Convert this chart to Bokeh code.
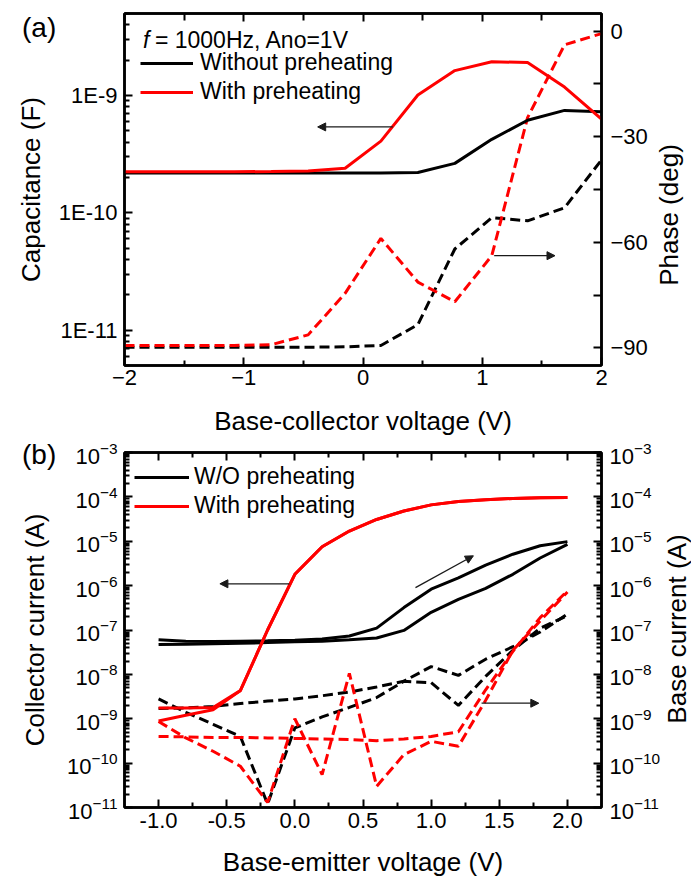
from bokeh.embed import file_html
from bokeh.layouts import column
from bokeh.models import (Arrow, CustomJSTickFormatter, Div, FixedTicker, Label, Legend,
                          LegendItem, LinearAxis, LinearScale, LogAxis, LogScale,
                          LogTickFormatter, NormalHead, NumeralTickFormatter, Range1d)
from bokeh.plotting import figure
from bokeh.resources import INLINE

FONT = "Liberation Sans"
RED = "#ff0000"
INK = "#000000"
ARROW_INK = "#1a1a1a"
DASH = "10 5"

# ---------------- (a) capacitance and phase vs base-collector voltage ----------------
v_bc = [-2.0, -1.69, -1.38, -1.08, -0.77, -0.46, -0.15, 0.15, 0.46, 0.77, 1.08, 1.38, 1.69, 2.0]
cap_without = [2.19e-10, 2.19e-10, 2.19e-10, 2.19e-10, 2.19e-10, 2.19e-10, 2.19e-10,
               2.19e-10, 2.21e-10, 2.64e-10, 4.23e-10, 6.16e-10, 7.47e-10, 7.28e-10]
cap_with = [2.24e-10, 2.24e-10, 2.24e-10, 2.24e-10, 2.25e-10, 2.27e-10, 2.40e-10,
            4.09e-10, 1.01e-9, 1.63e-9, 1.94e-9, 1.91e-9, 1.18e-9, 6.30e-10]
phase_without = [-89.8, -89.8, -89.8, -89.8, -89.8, -89.8, -89.7,
                 -89.3, -83.4, -61.9, -53.0, -53.9, -50.2, -36.6]
phase_with = [-89.3, -89.3, -89.3, -89.3, -89.1, -86.3, -74.5,
              -58.9, -71.3, -76.9, -63.8, -24.6, -3.9, -0.7]

cap_ticks = [1e-11, 1e-10, 1e-9]
phase_ticks = [-90, -60, -30, 0]
phase_minor = [-75, -45, -15]
vbc_ticks = [-2, -1, 0, 1, 2]
vbc_minor = [-1.5, -0.5, 0.5, 1.5]

# arrows: which curve belongs to which axis
cap_arrow = dict(x_start=0.25, x_end=-0.38, y_start=5.4e-10, y_end=5.4e-10)
phase_arrow = dict(x_start=1.10, x_end=1.61, y_start=-63.8, y_end=-63.8)

# ---------------- (b) collector / base current vs base-emitter voltage ----------------
v_be = [-1.0, -0.8, -0.6, -0.4, -0.2, 0.0, 0.2, 0.4, 0.6, 0.8, 1.0, 1.2, 1.4, 1.6, 1.8, 2.0]
ic_wo_up = [6.0e-8, 5.6e-8, 5.5e-8, 5.6e-8, 5.7e-8, 5.9e-8, 6.3e-8, 7.3e-8,
            1.1e-7, 3.2e-7, 8.3e-7, 1.5e-6, 2.9e-6, 5.1e-6, 7.9e-6, 9.8e-6]
ic_wo_down = [4.7e-8, 4.8e-8, 4.9e-8, 5.0e-8, 5.2e-8, 5.4e-8, 5.6e-8, 6.0e-8,
              6.6e-8, 9.8e-8, 2.5e-7, 4.9e-7, 8.7e-7, 1.8e-6, 4.2e-6, 8.5e-6]
ic_with_up = [8.9e-10, 1.2e-9, 1.6e-9, 4.3e-9, 1.0e-7, 1.8e-6, 7.5e-6, 1.7e-5,
              3.1e-5, 4.8e-5, 6.6e-5, 7.9e-5, 8.6e-5, 9.2e-5, 9.6e-5, 9.7e-5]
ic_with_down = [1.75e-9, 1.75e-9, 1.8e-9, 4.3e-9, 1.0e-7, 1.8e-6, 7.5e-6, 1.7e-5,
                3.1e-5, 4.8e-5, 6.6e-5, 7.9e-5, 8.6e-5, 9.2e-5, 9.6e-5, 9.7e-5]
ib_wo_a = [1.7e-9, 1.75e-9, 1.9e-9, 2.2e-9, 2.5e-9, 2.8e-9, 3.3e-9, 4.0e-9,
           5.2e-9, 7.0e-9, 1.5e-8, 9.5e-9, 2.2e-8, 4.2e-8, 9.0e-8, 2.3e-7]
ib_wo_b = [2.8e-9, 1.4e-9, 7.5e-10, 4.0e-10, 1.2e-11, 6.2e-10, 1.1e-9, 1.8e-9,
           3.0e-9, 7.0e-9, 6.5e-9, 2.0e-9, 9.0e-9, 3.5e-8, 1.1e-7, 2.1e-7]
ib_with_a = [4.0e-10, 3.9e-10, 3.8e-10, 3.8e-10, 3.7e-10, 3.6e-10, 3.5e-10, 3.4e-10,
             3.2e-10, 3.5e-10, 4.0e-10, 5.1e-10, 4.5e-9, 3.3e-8, 1.9e-7, 7.6e-7]
ib_with_b = [8.7e-10, 3.7e-10, 1.85e-10, 8.5e-11, 1.3e-11, 1.0e-9, 5.5e-11, 1.05e-8,
             3.0e-11, 1.55e-10, 3.1e-10, 2.4e-10, 2.6e-9, 3.5e-8, 1.6e-7, 7.2e-7]

current_ticks = [1e-11, 1e-10, 1e-9, 1e-8, 1e-7, 1e-6, 1e-5, 1e-4, 1e-3]
current_minor = [m * 10.0 ** e for e in range(-11, -3) for m in range(2, 10)]
cap_minor = [m * 10.0 ** e for e in range(-12, -8) for m in range(2, 10)
             if 5e-12 <= m * 10.0 ** e <= 5e-9]
vbe_ticks = [-1.0, -0.5, 0.0, 0.5, 1.0, 1.5, 2.0]
vbe_minor = [-0.75, -0.25, 0.25, 0.75, 1.25, 1.75]

ic_arrow = dict(x_start=-0.04, x_end=-0.55, y_start=1.1e-6, y_end=1.1e-6)
sweep_arrow = dict(x_start=0.885, x_end=1.31, y_start=9.0e-7, y_end=4.7e-6)
ib_arrow = dict(x_start=1.37, x_end=1.79, y_start=2.24e-9, y_end=2.24e-9)


def style_axis(ax, label_standoff=6, title_standoff=10, show_labels=True):
    ax.axis_line_color = INK
    ax.axis_line_width = 2.5
    ax.major_tick_in = 8
    ax.major_tick_out = 0
    ax.minor_tick_in = 5
    ax.minor_tick_out = 0
    ax.major_tick_line_width = 2
    ax.minor_tick_line_width = 2
    ax.major_tick_line_color = INK
    ax.minor_tick_line_color = INK
    ax.major_label_text_font = FONT
    ax.major_label_text_color = INK
    ax.major_label_standoff = label_standoff
    ax.major_label_text_font_size = "22px"
    if not show_labels:
        # tick marks only, as on a mirrored frame edge
        ax.major_label_text_font_size = "1px"
        ax.major_label_text_color = None
        ax.major_label_standoff = 0
    ax.axis_label_text_font = FONT
    ax.axis_label_text_font_size = "26px"
    ax.axis_label_text_font_style = "normal"
    ax.axis_label_text_color = INK
    ax.axis_label_standoff = title_standoff


def frame_style(p):
    p.xgrid.visible = False
    p.ygrid.visible = False
    p.outline_line_color = INK
    p.outline_line_width = 2.5
    p.background_fill_color = "white"
    p.border_fill_color = "white"


def add_arrow(p, spec, y_range_name="default"):
    p.add_layout(Arrow(end=NormalHead(size=8, fill_color=ARROW_INK, line_color=ARROW_INK),
                       line_color=ARROW_INK, line_width=1.3,
                       y_range_name=y_range_name, **spec))


def make_legend(items, location, glyph_width, standoff):
    return Legend(items=items, location=location, orientation="vertical",
                  glyph_width=glyph_width, glyph_height=26, label_height=26,
                  label_standoff=standoff, spacing=2, padding=0, margin=0,
                  border_line_color=None, background_fill_alpha=0,
                  label_text_font=FONT, label_text_font_size="23px",
                  label_text_color=INK)


def margin_text(text, left, top, size="28px"):
    # panel letter in the left margin, beside the top of the y axis
    return Div(text=text, width=0, height=0,
               styles={"position": "absolute", "left": f"{left}px", "top": f"{top}px",
                       "font-family": f"'{FONT}'", "font-size": size, "color": INK,
                       "line-height": "normal", "white-space": "nowrap", "z-index": "5"})


def right_title(text, cx, cy):
    # title of a right-hand axis, reading bottom-to-top like the left-hand ones
    w, h = 220, 28
    return Div(text=text, width=0, height=0,
               styles={"position": "absolute", "left": f"{cx - w / 2}px",
                       "top": f"{cy - h / 2}px", "width": f"{w}px", "height": f"{h}px",
                       "line-height": f"{h}px", "text-align": "center",
                       "font-family": f"'{FONT}'", "font-size": "26px", "color": INK,
                       "white-space": "nowrap", "transform": "rotate(-90deg)",
                       "transform-origin": "50% 50%", "z-index": "5"})


# ------------------------------- panel (a) -------------------------------
pa = figure(width=691, height=438, title=None,
            x_range=Range1d(-2, 2), y_range=Range1d(5e-12, 5e-9), y_axis_type="log",
            output_backend="svg", toolbar_location=None,
            min_border_left=124, min_border_right=90, min_border_top=13, min_border_bottom=70)
frame_style(pa)
pa.extra_y_ranges = {"phase": Range1d(-95, 5)}
pa.extra_y_scales = {"phase": LinearScale()}

xa = pa.xaxis[0]
xa.ticker = FixedTicker(ticks=vbc_ticks, minor_ticks=vbc_minor)
xa.axis_label = "Base-collector voltage (V)"
style_axis(xa, label_standoff=4, title_standoff=18)

ya = pa.yaxis[0]
ya.ticker = FixedTicker(ticks=cap_ticks, minor_ticks=cap_minor)
ya.formatter = CustomJSTickFormatter(code="return '1E' + Math.round(Math.log10(tick));")
ya.axis_label = "Capacitance (F)"
style_axis(ya, label_standoff=7, title_standoff=10)

ya_r = LinearAxis(y_range_name="phase",
                  ticker=FixedTicker(ticks=phase_ticks, minor_ticks=phase_minor))
style_axis(ya_r, label_standoff=9)
ya_r.minor_tick_in = 8
pa.add_layout(ya_r, "right")

xa_top = LinearAxis(ticker=FixedTicker(ticks=vbc_ticks, minor_ticks=vbc_minor))
style_axis(xa_top, show_labels=False)
xa_top.minor_tick_in = 7
pa.add_layout(xa_top, "above")

pa.line(v_bc, phase_without, y_range_name="phase", line_color=INK, line_width=3, line_dash=DASH)
pa.line(v_bc, phase_with, y_range_name="phase", line_color=RED, line_width=3, line_dash=DASH)
r_a_without = pa.line(v_bc, cap_without, line_color=INK, line_width=3)
r_a_with = pa.line(v_bc, cap_with, line_color=RED, line_width=3)

add_arrow(pa, cap_arrow)
add_arrow(pa, phase_arrow, "phase")

pa.add_layout(make_legend([LegendItem(label="Without preheating", renderers=[r_a_without]),
                           LegendItem(label="With preheating", renderers=[r_a_with])],
                          (16, 260), 53, 7))

pa.add_layout(Label(x=-1.845, y=3.0e-9, text="f", text_font=FONT, text_font_size="23px",
                    text_font_style="italic", text_baseline="middle", text_color=INK))
pa.add_layout(Label(x=-1.745, y=3.0e-9, text="= 1000Hz, Ano=1V", text_font=FONT,
                    text_font_size="23px", text_baseline="middle", text_color=INK))

# ------------------------------- panel (b) -------------------------------
pb = figure(width=691, height=442, title=None,
            x_range=Range1d(-1.25, 2.25), y_range=Range1d(1e-11, 1e-3), y_axis_type="log",
            output_backend="svg", toolbar_location=None,
            min_border_left=124, min_border_right=90, min_border_top=14, min_border_bottom=73)
frame_style(pb)
pb.extra_y_ranges = {"base": Range1d(1e-11, 1e-3)}
pb.extra_y_scales = {"base": LogScale()}

xb = pb.xaxis[0]
xb.ticker = FixedTicker(ticks=vbe_ticks, minor_ticks=vbe_minor)
xb.formatter = NumeralTickFormatter(format="0.0")
xb.axis_label = "Base-emitter voltage (V)"
style_axis(xb, label_standoff=5, title_standoff=16)

yb = pb.yaxis[0]
yb.ticker = FixedTicker(ticks=current_ticks, minor_ticks=current_minor)
yb.formatter = LogTickFormatter(min_exponent=0)
yb.axis_label = "Collector current (A)"
style_axis(yb, label_standoff=7, title_standoff=14)

yb_r = LogAxis(y_range_name="base",
               ticker=FixedTicker(ticks=current_ticks, minor_ticks=current_minor),
               formatter=LogTickFormatter(min_exponent=0))
style_axis(yb_r, label_standoff=8)
pb.add_layout(yb_r, "right")

xb_top = LinearAxis(ticker=FixedTicker(ticks=vbe_ticks, minor_ticks=vbe_minor))
style_axis(xb_top, show_labels=False)
pb.add_layout(xb_top, "above")

for ib in (ib_wo_a, ib_wo_b):
    pb.line(v_be, ib, y_range_name="base", line_color=INK, line_width=3, line_dash=DASH)
for ib in (ib_with_a, ib_with_b):
    pb.line(v_be, ib, y_range_name="base", line_color=RED, line_width=3, line_dash=DASH)
r_b_without = pb.line(v_be, ic_wo_up, line_color=INK, line_width=3)
pb.line(v_be, ic_wo_down, line_color=INK, line_width=3)
r_b_with = pb.line(v_be, ic_with_up, line_color=RED, line_width=3)
pb.line(v_be, ic_with_down, line_color=RED, line_width=3)

add_arrow(pb, ic_arrow)
add_arrow(pb, sweep_arrow)
add_arrow(pb, ib_arrow, "base")

pb.add_layout(make_legend([LegendItem(label="W/O preheating", renderers=[r_b_without]),
                           LegendItem(label="With preheating", renderers=[r_b_with])],
                          (10, 288), 55, 5))

layout = column(margin_text("(a)", 17, 7), margin_text("(b)", 17, 434),
                right_title("Phase (deg)", 664, 210),
                right_title("Base current (A)", 672, 624),
                pa, pb, spacing=0)
open("out.html", "w").write(file_html(layout, INLINE))
